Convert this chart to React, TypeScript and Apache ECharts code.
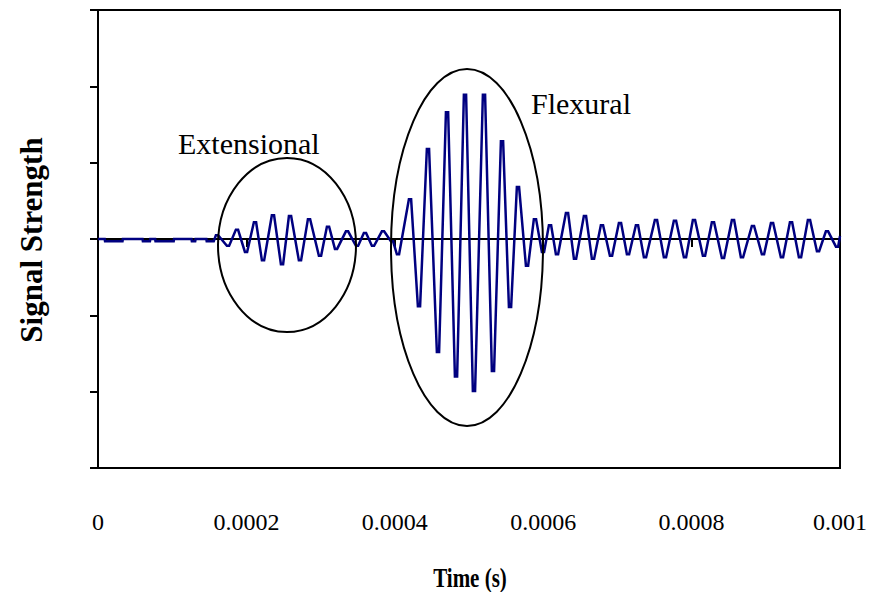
import React, { useEffect, useRef } from "react";
import * as echarts from "echarts";

// Sample times in microseconds and the matching signal amplitude (arbitrary units).
// Each oscillation peak is held briefly, so it appears as two points at the same level.
const timeUs = [
  0, 9, 9.5, 33, 33.5, 60, 60.5, 70, 70.5, 77, 77.5, 102, 102.5, 126, 126.5, 131, 131.5, 146, 146.5, 156,
  158.9, 161.9, 173.7, 176.7, 185.8, 188.8, 198.0, 201.0, 210.1, 213.1,
  220.9, 223.9, 234.3, 237.3, 246.5, 249.5, 257.3, 260.3, 270.7, 273.7,
  282.9, 285.9, 297.7, 300.7, 308.5, 311.5, 319.3, 322.3, 334.1, 337.1,
  347.6, 350.6, 358.3, 361.3, 369.1, 372.1, 382.6, 385.6, 394.7, 397.7,
  402.8, 405.8, 419.0, 422.0, 431.1, 434.1, 443.2, 446.2, 456.7, 459.7,
  468.9, 471.9, 481.0, 484.0, 493.1, 496.1, 505.2, 508.2, 518.7, 521.7,
  530.8, 533.8, 543.0, 546.0, 553.8, 556.8, 564.5, 567.5, 576.7, 579.7,
  587.4, 590.4, 598.2, 601.2, 607.7, 610.7, 617.1, 620.1, 630.6, 633.6,
  641.4, 644.4, 654.8, 657.8, 665.6, 668.6, 677.7, 680.7, 689.9, 692.9,
  702.0, 705.0, 712.8, 715.8, 724.9, 727.9, 735.7, 738.7, 750.5, 753.5,
  762.6, 765.6, 776.1, 779.1, 789.6, 792.6, 801.7, 804.7, 815.2, 818.2,
  827.3, 830.3, 840.8, 843.8, 854.3, 857.3, 866.4, 869.4, 881.2, 884.2,
  894.7, 897.7, 906.9, 909.9, 920.3, 923.3, 932.5, 935.5, 944.6, 947.6,
  956.7, 959.7, 968.9, 971.9, 981.0, 984.0, 994.5, 997.5, 1000,
];
const signal = [
  0, 0, -0.03, -0.03, 0, 0, -0.03, -0.03, 0, 0, -0.03, -0.03, 0, 0, -0.03, -0.03, 0, 0, -0.03, -0.03,
  0.05, 0.05, -0.09, -0.09, 0.12, 0.12, -0.17, -0.17, 0.22, 0.22,
  -0.28, -0.28, 0.31, 0.31, -0.33, -0.33, 0.30, 0.30, -0.28, -0.28,
  0.26, 0.26, -0.22, -0.22, 0.16, 0.16, -0.13, -0.13, 0.10, 0.10,
  -0.09, -0.09, 0.08, 0.08, -0.09, -0.09, 0.10, 0.10, -0.03, -0.03,
  -0.20, -0.20, 0.52, 0.52, -0.88, -0.88, 1.18, 1.18, -1.48, -1.48,
  1.66, 1.66, -1.80, -1.80, 1.89, 1.89, -1.99, -1.99, 1.89, 1.89,
  -1.73, -1.73, 1.28, 1.28, -0.89, -0.89, 0.68, 0.68, -0.35, -0.35,
  0.26, 0.26, -0.17, -0.17, 0.18, 0.18, -0.20, -0.20, 0.34, 0.34,
  -0.26, -0.26, 0.30, 0.30, -0.26, -0.26, 0.18, 0.18, -0.22, -0.22,
  0.21, 0.21, -0.20, -0.20, 0.18, 0.18, -0.24, -0.24, 0.25, 0.25,
  -0.24, -0.24, 0.24, 0.24, -0.24, -0.24, 0.25, 0.25, -0.22, -0.22,
  0.22, 0.22, -0.25, -0.25, 0.25, 0.25, -0.24, -0.24, 0.17, 0.17,
  -0.20, -0.20, 0.21, 0.21, -0.24, -0.24, 0.22, 0.22, -0.24, -0.24,
  0.25, 0.25, -0.16, -0.16, 0.10, 0.10, -0.10, -0.10, 0.04,
];

const xMin = 0;
const xMax = 0.001;
const xStep = 0.0002;
const yMin = -3;
const yMax = 3;
const yStep = 1;

const FAMILY = "Liberation Serif, Times New Roman, Times, serif";

export default function App() {
  const ref = useRef<HTMLDivElement>(null);

  useEffect(() => {
    const chart = echarts.init(ref.current!, null, { renderer: "svg" });
    const data = timeUs.map((t, i) => [t * 1e-6, signal[i]]);

    chart.setOption({
      animation: false,
      backgroundColor: "#fff",
      textStyle: { fontFamily: FAMILY },
      grid: {
        left: 98,
        right: 30,
        top: 10,
        bottom: 124,
        show: true,
        borderColor: "#000",
        borderWidth: 2,
        backgroundColor: "transparent",
      },
      xAxis: [
        {
          // axis line through zero with its ticks
          type: "value",
          min: xMin,
          max: xMax,
          interval: xStep,
          position: "bottom",
          axisLine: { show: true, onZero: true, lineStyle: { color: "#000", width: 2 } },
          axisTick: { show: true, length: 8, lineStyle: { color: "#000", width: 2 } },
          axisLabel: { show: false },
          splitLine: { show: false },
        },
        {
          // tick labels along the bottom of the plot
          type: "value",
          min: xMin,
          max: xMax,
          interval: xStep,
          position: "bottom",
          axisLine: { show: false, onZero: false },
          axisTick: { show: false },
          splitLine: { show: false },
          axisLabel: {
            show: true,
            margin: 42,
            color: "#000",
            fontFamily: FAMILY,
            fontSize: 24,
            showMinLabel: true,
            showMaxLabel: true,
            formatter: (v: number) => String(parseFloat(v.toFixed(4))),
          },
        },
      ],
      yAxis: {
        type: "value",
        min: yMin,
        max: yMax,
        interval: yStep,
        axisLine: { show: true, onZero: false, lineStyle: { color: "#000", width: 2 } },
        axisTick: { show: true, length: 8, lineStyle: { color: "#000", width: 2 } },
        axisLabel: { show: false },
        splitLine: { show: false },
      },
      series: [
        {
          type: "line",
          xAxisIndex: 0,
          data,
          showSymbol: false,
          lineStyle: { color: "#000080", width: 2.5, join: "miter" },
        },
      ],
      graphic: [
        {
          type: "ellipse",
          shape: { cx: 287, cy: 245, rx: 69, ry: 87 },
          style: { fill: "none", stroke: "#000", lineWidth: 2 },
          z: 10,
        },
        {
          type: "ellipse",
          shape: { cx: 467, cy: 247.5, rx: 76, ry: 178.5 },
          style: { fill: "none", stroke: "#000", lineWidth: 2 },
          z: 10,
        },
        {
          type: "text",
          x: 178,
          y: 143,
          style: {
            text: "Extensional",
            font: `30px ${FAMILY}`,
            fill: "#000",
            textAlign: "left",
            align: "left",
            textVerticalAlign: "middle",
            verticalAlign: "middle",
          },
          z: 10,
        },
        {
          type: "text",
          x: 531,
          y: 103,
          style: {
            text: "Flexural",
            font: `30px ${FAMILY}`,
            fill: "#000",
            textAlign: "left",
            align: "left",
            textVerticalAlign: "middle",
            verticalAlign: "middle",
          },
          z: 10,
        },
        {
          type: "text",
          x: 31,
          y: 240,
          rotation: Math.PI / 2,
          style: {
            text: "Signal Strength",
            font: `bold 31px ${FAMILY}`,
            fill: "#000",
            textAlign: "center",
            align: "center",
            textVerticalAlign: "middle",
            verticalAlign: "middle",
          },
          z: 10,
        },
        {
          type: "text",
          x: 470,
          y: 577,
          scaleX: 0.75,
          style: {
            text: "Time (s)",
            font: `bold 28px ${FAMILY}`,
            fill: "#000",
            textAlign: "center",
            align: "center",
            textVerticalAlign: "middle",
            verticalAlign: "middle",
          },
          z: 10,
        },
      ],
    });

    return () => chart.dispose();
  }, []);

  return (
    <div
      ref={ref}
      style={{ position: "fixed", left: 0, top: 0, width: 870, height: 592, background: "#fff" }}
    />
  );
}
